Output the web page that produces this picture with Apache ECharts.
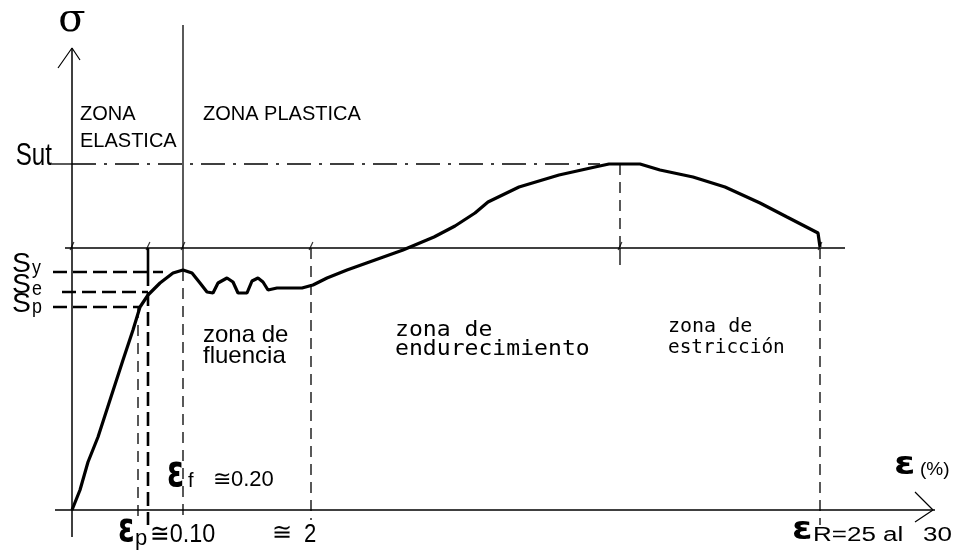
<!DOCTYPE html>
<html><head><meta charset="utf-8">
<script src="https://cdn.jsdelivr.net/npm/echarts@6/dist/echarts.min.js"></script>
<style>html,body{margin:0;padding:0;background:#fff}#c{width:954px;height:556px}</style>
</head><body><div id="c"></div>
<script>
// Diagram units: strain along x, stress along y (origin at the axes crossing)
const curve = [[0,0],[8,20],[16,48],[26,73],[38,110],[51,150],[61,180],[68,203],[76,215],[88,227],[101,237],[111,240],[120,237],[128,227],[135,218],[141,217],[146,227],[155,232],[161,228],[166,217],[175,217],[180,229],[186,232],[191,228],[196,220],[205,222],[218,222],[230,222],[241,225],[255,232],[275,240],[303,250],[331,260],[362,273],[383,284],[403,297],[416,308],[447,323],[487,335],[523,343],[537,346],[568,346],[588,340],[621,333],[653,323],[688,307],[715,293],[746,277],[748,263]];
const axisX = [[-17,0],[863,0]];
const axisXArrow = [[843,18],[861,0],[843,-12]];
const axisY = [[0,-27],[0,462]];
const axisYArrow = [[-14,442],[0,462],[8,450]];
const refLine = [[-7,262],[773,262]];
const sutStub = [[-20,346],[0,346]];
const sutLine = [[0,346],[528,346]];
const syLine = [[-19,238],[91,238]];
const seLine = [[-10,218],[76,218]];
const spLine = [[-19,203],[68,203]];
const zoneDivider = [[111,485],[111,240]];
const yieldTick = [[76,262],[76,238]];
const utsStub = [[548,262],[548,245]];
const thinDashes = [
  [[66,203],[66,-7]],
  [[111,240],[111,-8]],
  [[239,262],[239,-10]],
  [[548,346],[548,262]],
  [[748,262],[748,-15]]
];
const thickDash = [[76,238],[76,-15]];
const refTicks = [[0,264],[76,264],[111,264],[239,264],[548,264],[748,264]];

// texts of the diagram
const labelTexts = ['σ','ZONA','ELASTICA','ZONA PLASTICA','Sut',
  'S','y','S','e','S','p',
  'zona de','fluencia','zona de','endurecimiento','zona de','estricción',
  'ε','f','≅0.20','ε','p','≅0.10','≅','2','ε','(%)','ε','R=25','al','30'];

const SANS = 'Liberation Sans', MONO = 'DejaVu Sans Mono', EPS = 'DejaVu Sans';
// layout for each text (same order): anchor in diagram units, font, size, horizontal scale, align
const layout = [
  {at:[0,489], f:'DejaVu Serif', s:40, a:'center'},
  {at:[8,396], f:SANS, s:20}, {at:[8,369], f:SANS, s:20}, {at:[131,396], f:SANS, s:20},
  {at:[-20,354], f:SANS, s:31, sx:0.78, a:'right'},
  {at:[-60,245], f:SANS, s:27, sx:1.05}, {at:[-40,242], f:SANS, s:21, sx:0.85},
  {at:[-60,224], f:SANS, s:27, sx:1.05}, {at:[-40,221], f:SANS, s:21, sx:0.85},
  {at:[-60,205], f:SANS, s:27, sx:1.05}, {at:[-40,203], f:SANS, s:21, sx:0.85},
  {at:[131,175], f:SANS, s:24}, {at:[131,154], f:SANS, s:24},
  {at:[323,180], f:MONO, s:22, sx:1.05}, {at:[323,161], f:MONO, s:22, sx:1.05},
  {at:[596,183], f:MONO, s:20}, {at:[596,162], f:MONO, s:20, sx:0.97},
  {at:[95,35], f:EPS, s:44, w:'bold', sx:0.7}, {at:[116,29], f:SANS, s:20}, {at:[141,30], f:SANS, s:22},
  {at:[46,-21], f:EPS, s:40, w:'bold', sx:0.75}, {at:[63,-29], f:SANS, s:22}, {at:[78,-25], f:SANS, s:26, sx:0.9},
  {at:[200,-23], f:SANS, s:24}, {at:[232,-25], f:SANS, s:26, sx:0.85},
  {at:[822,44], f:EPS, s:32, w:'bold', sx:1.2}, {at:[848,40], f:SANS, s:19},
  {at:[720,-21], f:EPS, s:32, w:'bold', sx:1.15}, {at:[741,-25], f:SANS, s:20, sx:1.3}, {at:[811,-25], f:SANS, s:20, sx:1.3}, {at:[851,-25], f:SANS, s:20, sx:1.3}
];

function line(data, w, type) {
  return {type:'line', data, showSymbol:false, symbol:'none', silent:true, animation:false,
    lineStyle:{color:'#000', width:w, type:type||'solid'}, z:3};
}

const series = [
  line(curve, 3.2),
  line(axisX, 1.5), line(axisXArrow, 1.2),
  line(axisY, 1.5), line(axisYArrow, 1.2),
  line(refLine, 1.3),
  line(sutStub, 1.3), line(sutLine, 1.3, [24,8,3,8]),
  line(syLine, 2.6, [14,6]), line(seLine, 2.6, [14,6]), line(spLine, 2.6, [14,6]),
  line(zoneDivider, 1.3), line(yieldTick, 2.6), line(utsStub, 1.3),
  line(thickDash, 2.6, [14,6])
].concat(thinDashes.map(d => line(d, 1.3, [11,7])));
series.push({type:'scatter', data: refTicks, symbol:'rect', symbolSize:[1.2,9], symbolRotate:-25,
  itemStyle:{color:'#000'}, silent:true, animation:false, z:4});

const chart = echarts.init(document.getElementById('c'), null, {renderer:'canvas'});
chart.setOption({
  animation:false,
  backgroundColor:'#fff',
  grid:{left:0, right:0, top:0, bottom:0},
  xAxis:{type:'value', min:-72, max:882, show:false},
  yAxis:{type:'value', min:-46, max:510, show:false},
  series
});

const graphic = labelTexts.map((t, i) => {
  const L = layout[i];
  const p = chart.convertToPixel({gridIndex:0}, L.at);
  return {type:'text', x:p[0], y:p[1], scaleX:L.sx||1, scaleY:1, silent:true, z:10,
    style:{text:t, fill:'#000', fontFamily:L.f, fontSize:L.s, fontWeight:L.w||'normal',
      align:L.a||'left', verticalAlign:'middle'}};
});
chart.setOption({graphic});
</script></body></html>
